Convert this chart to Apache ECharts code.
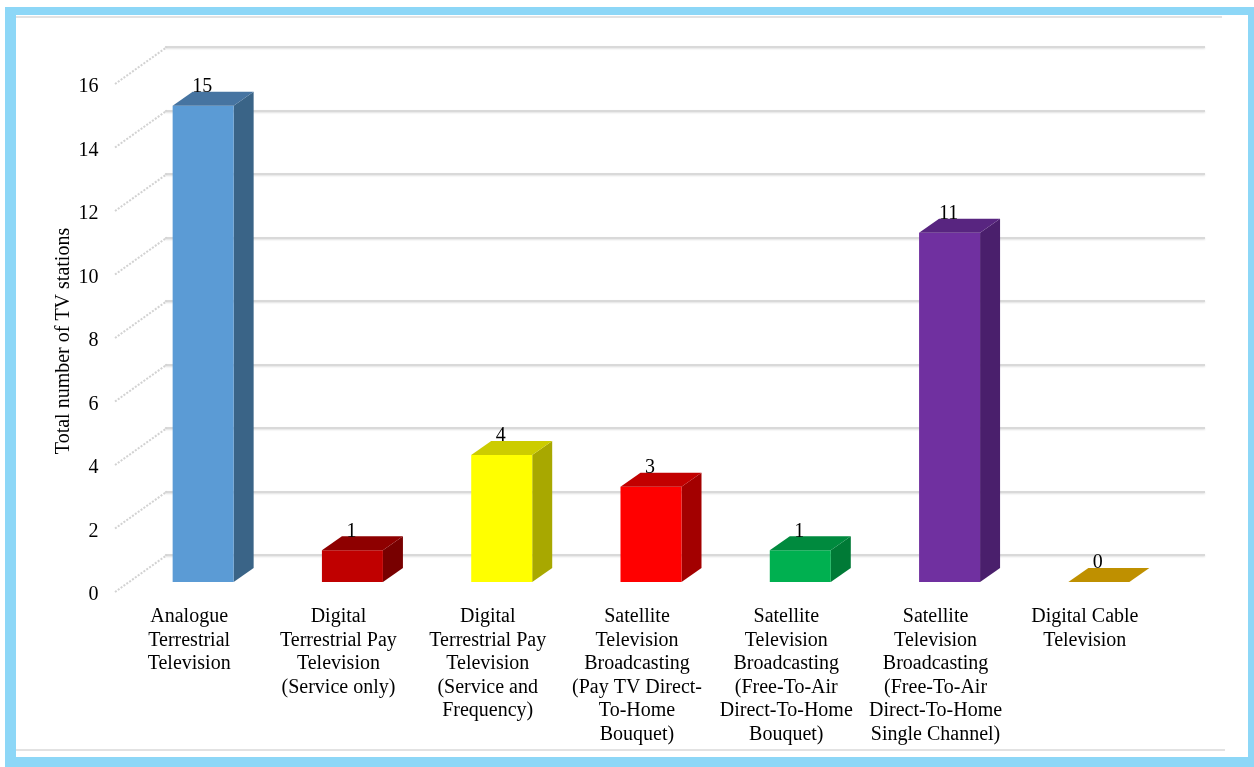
<!DOCTYPE html>
<html>
<head>
<meta charset="utf-8">
<script src="https://cdn.jsdelivr.net/npm/echarts@6/dist/echarts.min.js"></script>
<style>
html,body{margin:0;padding:0;background:#fff;}
#main{width:1254px;height:767px;}
</style>
</head>
<body>
<div id="main"></div>
<script>
// ---- data ----
var categories = [
  'Analogue\nTerrestrial\nTelevision',
  'Digital\nTerrestrial Pay\nTelevision\n(Service only)',
  'Digital\nTerrestrial Pay\nTelevision\n(Service and\nFrequency)',
  'Satellite\nTelevision\nBroadcasting\n(Pay TV Direct-\nTo-Home\nBouquet)',
  'Satellite\nTelevision\nBroadcasting\n(Free-To-Air\nDirect-To-Home\nBouquet)',
  'Satellite\nTelevision\nBroadcasting\n(Free-To-Air\nDirect-To-Home\nSingle Channel)',
  'Digital Cable\nTelevision'
];
var stations = [15, 1, 4, 3, 1, 11, 0];
var yTicks = [0, 2, 4, 6, 8, 10, 12, 14, 16];
var axisTitle = 'Total number of TV stations';

// ---- styles ----
var frontColors = ['#5B9BD5', '#C00000', '#FFFF00', '#FF0000', '#00B050', '#7030A0', '#BF9000'];
var topColors   = ['#4674A1', '#8E0000', '#CCCC00', '#C20000', '#008A3E', '#582580', '#BF9000'];
var sideColors  = ['#3A6487', '#780000', '#A8A800', '#A30000', '#007A36', '#4A1F6C', '#BF9000'];
var FONT = '"Liberation Serif", "Times New Roman", serif';

var chart = echarts.init(document.getElementById('main'), null, {renderer: 'canvas'});

var FACE_OFF = 14, HALF_W = 30.5, LIFT = 13, DX = 20, DY = -14;

function renderBar(params, api) {
  var idx = api.value(0), v = api.value(1);
  var base = api.coord([idx, 0]);
  var top = api.coord([idx, v]);
  var cx = base[0] + FACE_OFF;
  var x0 = cx - HALF_W, x1 = cx + HALF_W;
  var y0 = base[1] - LIFT, y1 = top[1] - LIFT;
  var i = params.dataIndex;
  var children = [];
  if (v > 0) {
    children.push({type: 'polygon', shape: {points: [[x1, y1], [x1 + DX, y1 + DY], [x1 + DX, y0 + DY], [x1, y0]]},
      style: {fill: sideColors[i]}});
    children.push({type: 'rect', shape: {x: x0, y: y1, width: x1 - x0, height: y0 - y1},
      style: {fill: frontColors[i]}});
  }
  children.push({type: 'polygon', shape: {points: [[x0, y1], [x1, y1], [x1 + DX, y1 + DY], [x0 + DX, y1 + DY]]},
    style: {fill: topColors[i]}});
  children.push({type: 'text', x: cx - 1, y: y1 + DY - 5,
    style: {text: String(v), font: '20px ' + FONT, fill: '#000', align: 'center', verticalAlign: 'middle'}});
  return {type: 'group', children: children};
}

function renderStub(params, api) {
  var p = api.coord([0, api.value(1)]);
  return {type: 'line', shape: {x1: p[0] - 50, y1: p[1] + 37, x2: p[0] + 2, y2: p[1]},
    style: {stroke: '#d2d2d2', lineWidth: 2, lineDash: [2, 1.5]}};
}

var option = {
  backgroundColor: '#fff',
  animation: false,
  graphic: [
    {type: 'rect', shape: {x: 5, y: 7, width: 1249, height: 760}, style: {fill: '#8DD7F7'}, z: -10},
    {type: 'rect', shape: {x: 16, y: 15, width: 1232, height: 742}, style: {fill: '#fff'}, z: -9},
    {type: 'line', shape: {x1: 16, y1: 17, x2: 1222, y2: 17}, style: {stroke: '#e2e2e2', lineWidth: 2}, z: -8},
    {type: 'line', shape: {x1: 16, y1: 750, x2: 1225, y2: 750}, style: {stroke: '#e2e2e2', lineWidth: 2}, z: -8}
  ],
  grid: [
    {left: 114.5, top: 87, width: 1045, height: 508},
    {left: 165, top: 47, width: 1040, height: 508}
  ],
  xAxis: [
    {type: 'category', gridIndex: 0, data: categories,
      axisLine: {show: false}, axisTick: {show: false}, splitLine: {show: false},
      axisLabel: {interval: 0, margin: 10, fontFamily: FONT, fontSize: 20, lineHeight: 23.5, color: '#000'}},
    {type: 'value', gridIndex: 1, min: 0, max: 1, show: false}
  ],
  yAxis: [
    {type: 'value', gridIndex: 0, min: 0, max: 16, interval: 2,
      axisLine: {show: false}, axisTick: {show: false}, splitLine: {show: false},
      axisLabel: {margin: 16, fontFamily: FONT, fontSize: 20, color: '#000'},
      name: axisTitle, nameLocation: 'middle', nameGap: 41, nameMoveOverlap: false,
      nameTextStyle: {fontFamily: FONT, fontSize: 20, color: '#000'}},
    {type: 'value', gridIndex: 1, min: 0, max: 16, interval: 2,
      axisLine: {show: false}, axisTick: {show: false}, axisLabel: {show: false},
      splitLine: {show: true, lineStyle: {color: '#d9d9d9', width: 2, shadowColor: 'rgba(0,0,0,0.12)', shadowBlur: 2, shadowOffsetY: 1}}}
  ],
  series: [
    {type: 'custom', xAxisIndex: 1, yAxisIndex: 1, renderItem: renderStub,
      data: yTicks.map(function (t) { return [0, t]; }), silent: true, z: 1},
    {type: 'custom', xAxisIndex: 0, yAxisIndex: 0, renderItem: renderBar,
      data: stations.map(function (v, i) { return [i, v]; }), z: 5}
  ]
};
chart.setOption(option);
</script>
</body>
</html>
